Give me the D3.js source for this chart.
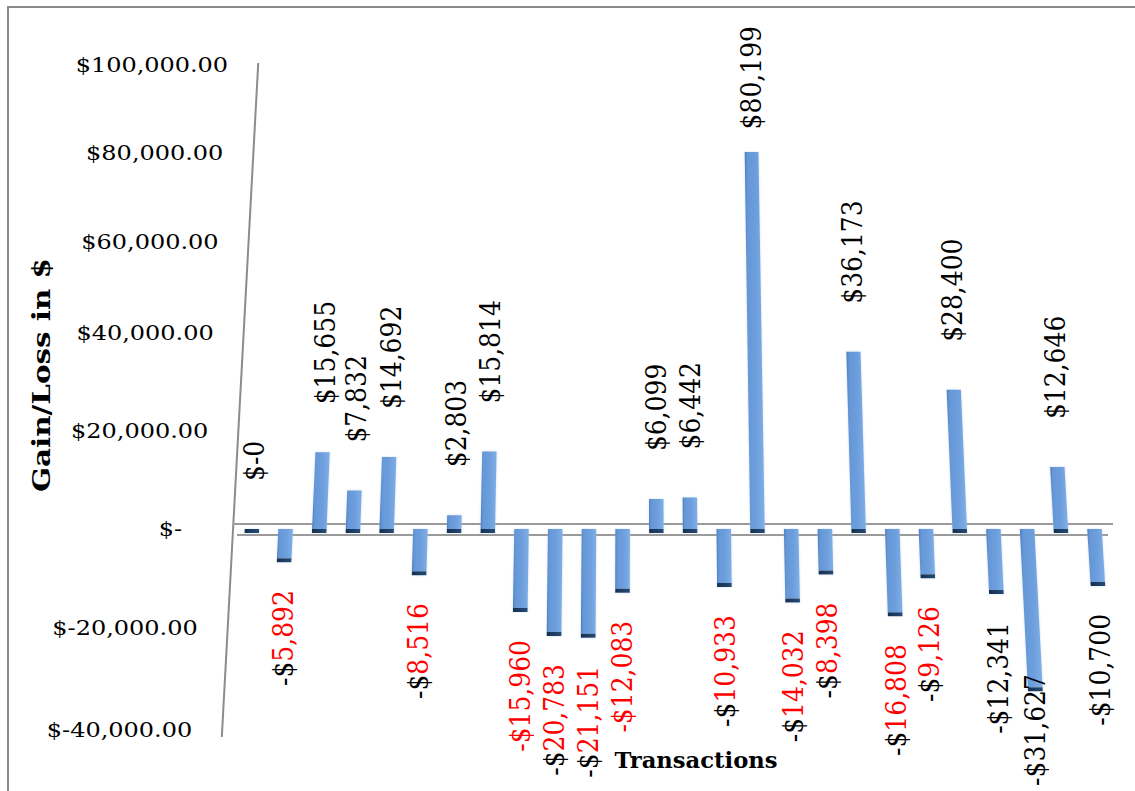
<!DOCTYPE html>
<html>
<head>
<meta charset="utf-8">
<script src="https://cdn.jsdelivr.net/npm/d3@7"></script>
<style>
  html, body { margin: 0; padding: 0; background: #fff; }
  svg { display: block; }
  text, tspan { font-family: "DejaVu Serif", "Liberation Serif", serif; }
</style>
</head>
<body>
<svg id="chart" width="1135" height="791"></svg>
<script>
// ---- data ----------------------------------------------------------------
const transactions = ["1","2","3","4","5","6","7","8","9","10","11","12","13",
                      "14","15","16","17","18","19","20","21","22","23","24","25","26"];
const gainLoss = [-0.3, -5892, 15655, 7832, 14692, -8516, 2803, 15814, -15960, -20783,
                  -21151, -12083, 6099, 6442, -10933, 80199, -14032, -8398, 36173,
                  -16808, -9126, 28400, -12341, -31627, 12646, -10700];
const axisTicks = [-40000, -20000, 0, 20000, 40000, 60000, 80000, 100000];
const axisTickLabels = ["$-40,000.00", "$-20,000.00", "$-", "$20,000.00", "$40,000.00",
                        "$60,000.00", "$80,000.00", "$100,000.00"];
// how much of each loss label is printed in red
const labelTint = ["none","digits","none","none","none","digits","none","none","all","digits",
                   "digits","all","none","none","digits","none","digits","digits","none",
                   "digits","digits","none","none","none","none","none"];

// ---- layout ----------------------------------------------------------------
const W = 1135, H = 791;
const tickRows = [730, 628, 529, 431, 333, 242, 153, 65];   // projected rows of the value axis
const VX = 640, VY = -7000, FLOOR = 530;                     // perspective vanishing point
const proj = (px, py) => VX + (px - VX) * (py - VY) / (FLOOR - VY);
const AXIS_X = 233;
const RED = "#ff0000";

const svg = d3.select("#chart");

const x = d3.scaleBand().domain(transactions).range([235, 1111.4])
  .paddingInner(0.57).paddingOuter(0.285);
const y = d3.scaleLinear().domain(axisTicks).range(tickRows);

// gradients and a soft halo for the columns
const defs = svg.append("defs");
const face = defs.append("linearGradient").attr("id", "barFace")
  .attr("x1", "0%").attr("x2", "100%").attr("y1", "0%").attr("y2", "0%");
[["0%", "#4b7dbd"], ["14%", "#6596d6"], ["60%", "#6e9fdd"], ["100%", "#80afe6"]]
  .forEach(([o, c]) => face.append("stop").attr("offset", o).attr("stop-color", c));
const cap = defs.append("linearGradient").attr("id", "barCap")
  .attr("x1", "0%").attr("x2", "100%").attr("y1", "0%").attr("y2", "0%");
[["0%", "#16304f"], ["100%", "#264a74"]]
  .forEach(([o, c]) => cap.append("stop").attr("offset", o).attr("stop-color", c));
const halo = defs.append("filter").attr("id", "halo")
  .attr("x", "-30%").attr("y", "-10%").attr("width", "160%").attr("height", "120%");
halo.append("feGaussianBlur").attr("in", "SourceAlpha").attr("stdDeviation", 1.2).attr("result", "b");
halo.append("feFlood").attr("flood-color", "#a9c6ec").attr("flood-opacity", 0.6);
halo.append("feComposite").attr("in2", "b").attr("operator", "in").attr("result", "h");
const hm = halo.append("feMerge");
hm.append("feMergeNode").attr("in", "h");
hm.append("feMergeNode").attr("in", "SourceGraphic");

// chart frame (top and left edges)
svg.append("path").attr("d", `M8,${H} L8,7 L${W},7`)
  .attr("fill", "none").attr("stroke", "#8a8a8a").attr("stroke-width", 2);

// value axis line, drawn in perspective
svg.append("line")
  .attr("x1", proj(AXIS_X, 63)).attr("y1", 63)
  .attr("x2", proj(AXIS_X, 737)).attr("y2", 737)
  .attr("stroke", "#8c8c8c").attr("stroke-width", 2);

// floor at zero: back edge and front edge
const zeroY = y(0);
svg.append("line").attr("x1", AXIS_X).attr("x2", 1113)
  .attr("y1", zeroY - 5).attr("y2", zeroY - 5)
  .attr("stroke", "#9a9a9a").attr("stroke-width", 2);
svg.append("line").attr("x1", AXIS_X + 4).attr("x2", 1108)
  .attr("y1", zeroY + 6).attr("y2", zeroY + 6)
  .attr("stroke", "#9a9a9a").attr("stroke-width", 2);

// columns
const quad = (x0, x1, yt, yb) =>
  [[proj(x0, yt), yt], [proj(x1, yt), yt], [proj(x1, yb), yb], [proj(x0, yb), yb]]
    .map(p => p.join(",")).join(" ");
const CAP = 4;
const bars = svg.append("g").attr("filter", "url(#halo)")
  .selectAll("g").data(gainLoss).join("g");
bars.each(function (v, i) {
  const g = d3.select(this);
  const x0 = x(transactions[i]), x1 = x0 + x.bandwidth();
  const yv = y(v);
  if (v >= 0) {
    g.append("polygon").attr("points", quad(x0, x1, yv, zeroY)).attr("fill", "url(#barFace)");
    g.append("polygon").attr("points", quad(x0, x1, zeroY, zeroY + CAP)).attr("fill", "url(#barCap)");
  } else {
    if (yv - zeroY > 0.5)
      g.append("polygon").attr("points", quad(x0, x1, zeroY, yv)).attr("fill", "url(#barFace)");
    g.append("polygon").attr("points", quad(x0, x1, yv, yv + CAP)).attr("fill", "url(#barCap)");
  }
});

// value axis tick labels
svg.append("g").selectAll("text").data(axisTicks).join("text")
  .attr("transform", (d) => {
    const ty = y(d);
    const xr = proj(AXIS_X, ty) - 30 - (d === 0 ? 21 : 0);
    return `translate(${xr},${ty}) scale(1.17,1)`;
  })
  .attr("dy", "0.35em")
  .attr("text-anchor", "end")
  .attr("font-size", 20.5).attr("fill", "#000")
  .text((d, i) => axisTickLabels[i]);

// data labels, rotated to read upward
const num = d3.format(",");
const LABEL_TOP = 26, LABEL_BOTTOM = 786;
const labels = svg.append("g");
gainLoss.forEach((v, i) => {
  const cx = x(transactions[i]) + x.bandwidth() / 2;
  const r = Math.round(v);
  const above = r >= 0;
  const t = labels.append("text")
    .attr("font-size", 25)
    .attr("dy", "0.365em");
  if (above) {
    t.append("tspan").attr("fill", "#000").text(v < 0 ? "$-0" : "$" + num(r));
    t.attr("text-anchor", "start");
    const L = t.node().getComputedTextLength();
    let start = y(v) - 48;
    if (start - L < LABEL_TOP) start = LABEL_TOP + L;
    t.attr("transform", `translate(${proj(cx, start)},${start}) scale(1.1,1) rotate(-90)`);
  } else {
    const tint = labelTint[i];
    t.append("tspan").attr("fill", tint === "all" ? RED : "#000").text("-$");
    t.append("tspan").attr("fill", tint === "none" ? "#000" : RED).text(num(-r));
    t.attr("text-anchor", "end");
    const L = t.node().getComputedTextLength();
    let end = y(v) + CAP + 28;
    if (end + L > LABEL_BOTTOM) end = LABEL_BOTTOM - L;
    t.attr("transform", `translate(${proj(cx, end)},${end}) scale(1.1,1) rotate(-90)`);
  }
});

// axis titles
svg.append("text")
  .attr("transform", "translate(41,375) scale(1.1,1) rotate(-90)")
  .attr("text-anchor", "middle").attr("dy", "0.36em")
  .attr("font-weight", "bold").attr("font-size", 22)
  .attr("textLength", 234).attr("lengthAdjust", "spacingAndGlyphs")
  .text("Gain/Loss in $");

svg.append("text")
  .attr("x", 696).attr("y", 768)
  .attr("text-anchor", "middle")
  .attr("font-weight", "bold").attr("font-size", 23)
  .attr("textLength", 163).attr("lengthAdjust", "spacingAndGlyphs")
  .text("Transactions");
</script>
</body>
</html>
